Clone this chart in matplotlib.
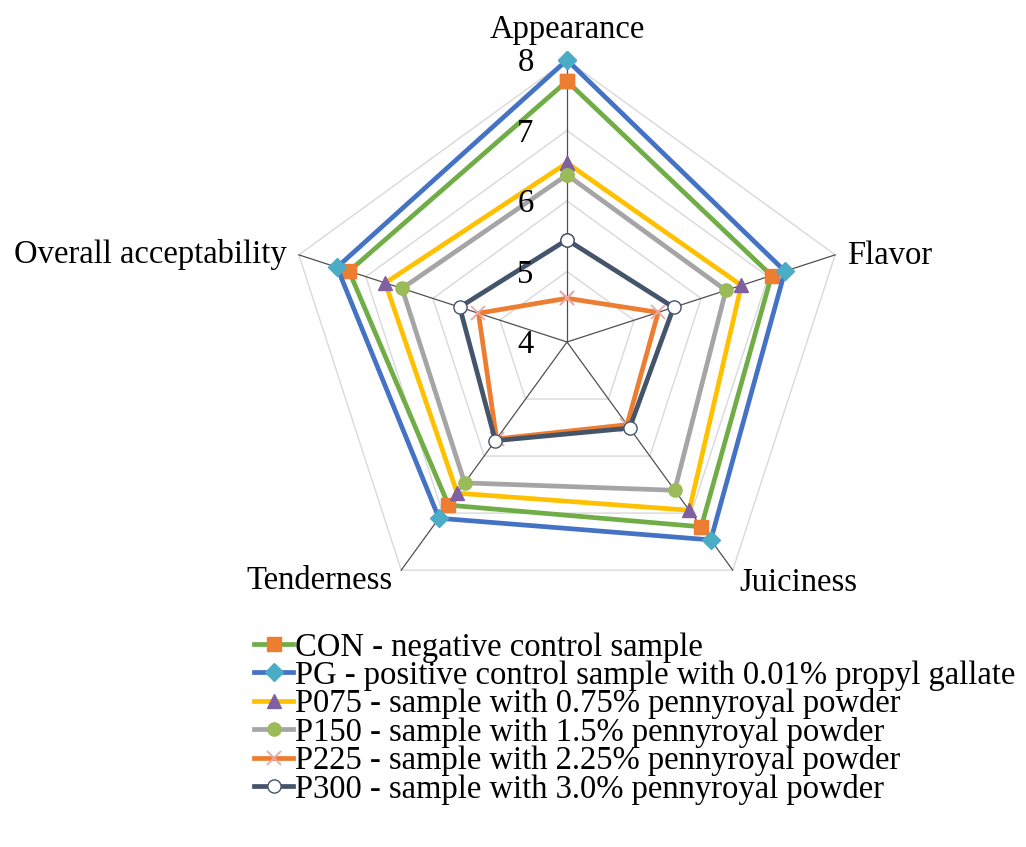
"""
Radar chart: sensory attributes of samples with pennyroyal powder.
"""

import matplotlib
matplotlib.use("Agg")
import matplotlib.pyplot as plt
import numpy as np

plt.rcParams["font.family"] = ["Liberation Serif", "DejaVu Serif"]

# datos
atributos = ["Appearance", "Flavor", "Juiciness", "Tenderness", "Overall acceptability"]
con = [7.70, 7.05, 7.24, 6.86, 7.25]
pg = [8.00, 7.25, 7.47, 7.09, 7.43]
p075 = [6.54, 6.60, 6.95, 6.65, 6.71]
p150 = [6.37, 6.37, 6.60, 6.47, 6.46]
p225 = [4.62, 5.36, 5.45, 5.70, 5.32]
p300 = [5.45, 5.59, 5.51, 5.73, 5.60]
nombres = [
    "CON - negative control sample",
    "PG - positive control sample with 0.01% propyl gallate",
    "P075 - sample with 0.75% pennyroyal powder",
    "P150 - sample with 1.5% pennyroyal powder",
    "P225 - sample with 2.25% pennyroyal powder",
    "P300 - sample with 3.0% pennyroyal powder",
]
r_ticks = [4, 5, 6, 7, 8]

# estilo de cada serie: color linea, marcador, color marcador, borde marcador
estilos = [
    ("#70AD47", "s", "#ED7D31", "#ED7D31"),
    ("#4472C4", "D", "#4BACC6", "#4BACC6"),
    ("#FFC000", "^", "#7F60A0", "#7F60A0"),
    ("#A5A5A5", "o", "#9BBB59", "#9BBB59"),
    ("#ED7D31", "x", "#E8A8A8", "#E8A8A8"),
    ("#44546A", "o", "white", "#44546A"),
]
FS = 23.5

fig = plt.figure(figsize=(10.26, 8.47), dpi=100)
ax = fig.add_axes([285 / 1026, 223 / 847, 564 / 1026, 564 / 847], projection="polar")
ax.set_theta_zero_location("N")
ax.set_theta_direction(-1)
ax.set_ylim(r_ticks[0], r_ticks[-1])
ax.grid(False)
ax.spines["polar"].set_visible(False)
ax.set_xticks([])
ax.set_yticks([])
ax.patch.set_visible(False)

n = len(atributos)
theta = np.linspace(0, 2 * np.pi, n, endpoint=False)
theta_c = np.append(theta, theta[0])

# rejilla pentagonal y radios
for rv in r_ticks[1:]:
    ax.plot(theta_c, [rv] * (n + 1), color="#D9D9D9", lw=1.0, zorder=1, clip_on=False)
for t in theta:
    ax.plot([t, t], [r_ticks[0], r_ticks[-1]], color="#505050", lw=0.9, zorder=2, clip_on=False)

series = [con, pg, p075, p150, p225, p300]
for vals, nombre, (lc, mk, mfc, mec) in zip(series, nombres, estilos):
    v = np.append(vals, vals[0])
    ax.plot(theta_c, v, color=lc, lw=3.4, marker=mk, markersize=9.5 if mk != "x" else 10,
            markerfacecolor=mfc, markeredgecolor=mec, markeredgewidth=1.0 if mk != "x" else 1.3,
            label=nombre, zorder=3, clip_on=False)

# etiquetas radiales
for rv in r_ticks:
    ax.annotate(str(rv), xy=(0, rv), xytext=(-24, -2), textcoords="offset points",
                ha="right", va="center", fontsize=FS, zorder=5)

# etiquetas de categorias (desplazamientos en puntos)
offsets = [(0, 16, "center"), (8.5, -6.5, "left"), (5, -15, "left"),
           (-6, -13.5, "right"), (-8.4, -6, "right")]
for t, nombre, (dx, dy, ha) in zip(theta, atributos, offsets):
    ax.annotate(nombre, xy=(t, r_ticks[-1]), xytext=(dx, dy), textcoords="offset points",
                ha=ha, va="baseline", fontsize=FS)

leg = fig.legend(loc="upper left", bbox_to_anchor=(254 / 1026, 1 - 632 / 847),
                 frameon=False, fontsize=FS, borderpad=0, borderaxespad=0,
                 handlelength=1.2, handletextpad=0.05, labelspacing=-0.075)

fig.savefig("out.png", dpi=100)
